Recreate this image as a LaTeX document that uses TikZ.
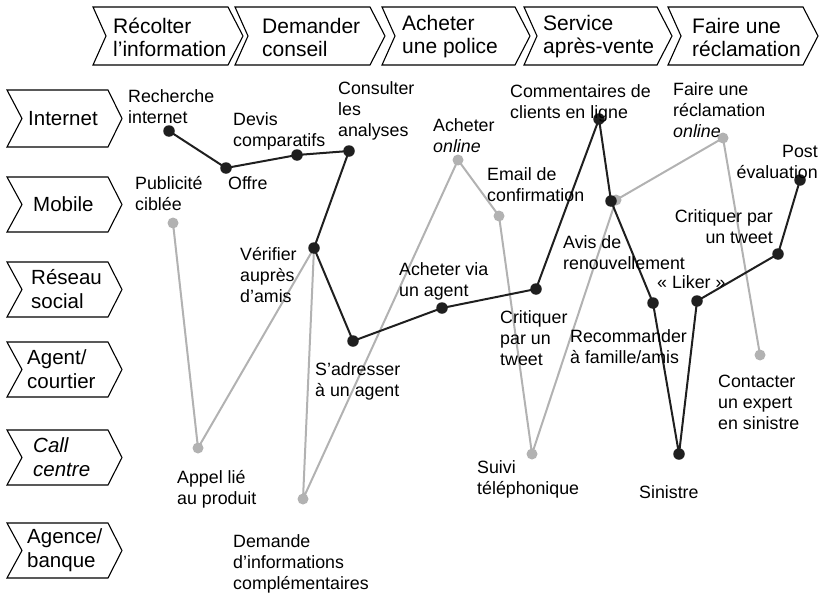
\documentclass[tikz,border=0pt]{standalone}
\usepackage{fontspec}
\setmainfont{Liberation Sans}
\pgfdeclarelayer{bg}
\pgfsetlayers{bg,main}
\newcommand\mlines[1]{\begin{tabular}[t]{@{}l@{}}#1\end{tabular}}
\newcommand\mrlines[1]{\begin{tabular}[t]{@{}r@{}}#1\end{tabular}}
\newcommand\chevr[6]{\draw[chev] (#1,#3) -- (#2-#6,#3) -- (#2,{(#3+#4)/2}) -- (#2-#6,#4) -- (#1,#4) -- (#1+#5,{(#3+#4)/2}) -- cycle;}
\begin{document}
\begin{tikzpicture}[x=1pt,y=-1pt,
 lab/.style={anchor=base west, inner sep=0pt, font=\fontsize{17.8}{21}\selectfont},
 labr/.style={anchor=base east, inner sep=0pt, font=\fontsize{17.8}{21}\selectfont},
 hdr/.style={anchor=west, inner sep=0pt, align=left, font=\fontsize{21}{23}\selectfont},
 rowl/.style={anchor=west, inner sep=0pt, align=left, font=\fontsize{20.5}{24}\selectfont},
 chev/.style={draw=black, line width=1.1pt, line join=miter},
 bdot/.style={circle, fill=black!88, inner sep=0pt, minimum size=11.5pt},
 gdot/.style={circle, fill=black!30, inner sep=0pt, minimum size=11pt},
 bline/.style={draw=black!88, line width=2pt, line join=round},
 gline/.style={draw=black!30, line width=2pt, line join=round}]
\useasboundingbox (0,0) rectangle (821,594);

% header chevrons
\chevr{93}{243}{7}{65}{13}{15}
\chevr{235}{385}{7}{65}{13}{15}
\chevr{382}{530}{7}{65}{13}{15}
\chevr{524}{672}{7}{65}{13}{15}
\chevr{668}{818}{7}{65}{13}{15}
\node[hdr] (h1) at (113,37) {Récolter\\l’information};
\node[hdr] (h2) at (262,37) {Demander\\conseil};
\node[hdr] (h3) at (402,37) {Acheter\\une police};
\node[hdr] (h4) at (543,37) {Service\\après-vente};
\node[hdr] (h5) at (692,37) {Faire une\\réclamation};

% row chevrons
\chevr{7}{122}{90}{147}{15}{14}
\chevr{7}{122}{177}{232}{15}{14}
\chevr{7}{122}{262}{317}{15}{14}
\chevr{7}{122}{342}{397}{15}{14}
\chevr{7}{122}{430}{485}{15}{14}
\chevr{7}{122}{523}{578}{15}{14}
\node[rowl] (r1) at (28,118.5) {Internet};
\node[rowl] (r2) at (33,204.5) {Mobile};
\node[rowl] (r3) at (31,289.5) {Réseau\\social};
\node[rowl] (r4) at (27,369.5) {Agent/\\courtier};
\node[rowl] (r5) at (33,457.5) {\itshape Call\\\itshape centre};
\node[rowl] (r6) at (27,550.5) {Agence/\\banque};

% gray dots
\node[gdot] (a) at (173,223) {};
\node[gdot] (b) at (198,448) {};
\node[gdot] (c) at (303,499) {};
\node[gdot] (d) at (458,160) {};
\node[gdot] (e) at (499,216) {};
\node[gdot] (f) at (532,454) {};
\node[gdot] (g) at (616,200) {};
\node[gdot] (h) at (723,138) {};
\node[gdot] (i) at (760,355) {};

% black dots
\node[bdot] (A) at (169,131) {};
\node[bdot] (B) at (226,168) {};
\node[bdot] (C) at (297,155) {};
\node[bdot] (D) at (349,151) {};
\node[bdot] (E) at (314,248) {};
\node[bdot] (F) at (353,341) {};
\node[bdot] (G) at (442,308) {};
\node[bdot] (H) at (536,289) {};
\node[bdot] (I) at (599,119) {};
\node[bdot] (J) at (611,201) {};
\node[bdot] (K) at (653,303) {};
\node[bdot] (L) at (679,454) {};
\node[bdot] (M) at (697,301) {};
\node[bdot] (N) at (778,254) {};
\node[bdot] (O) at (800,180) {};

\begin{pgfonlayer}{bg}
\draw[gline] (a.center) -- (b.center) -- (E.center) -- (c.center) -- (d.center) -- (e.center) -- (f.center) -- (g.center) -- (h.center) -- (i.center);
\draw[bline] (A.center) -- (B.center) -- (C.center) -- (D.center) -- (E.center) -- (F.center) -- (G.center) -- (H.center) -- (I.center) -- (J.center) -- (K.center) -- (L.center) -- (M.center) -- (N.center) -- (O.center);
\end{pgfonlayer}

% labels
\node[lab] (lA) at (128,102) {\mlines{Recherche\\internet}};
\node[lab] (lC) at (233,125) {\mlines{Devis\\comparatifs}};
\node[lab] (lD) at (338,94) {\mlines{Consulter\\les\\analyses}};
\node[lab] (lB) at (228,189) {Offre};
\node[lab] (la) at (135,189) {\mlines{Publicité\\ciblée}};
\node[lab] (lE) at (240,260) {\mlines{Vérifier\\auprès\\d’amis}};
\node[lab] (ld) at (433,131) {\mlines{Acheter\\\itshape online}};
\node[lab] (le) at (487,180) {\mlines{Email de\\confirmation}};
\node[lab] (lG) at (399,275) {\mlines{Acheter via\\un agent}};
\node[lab] (lF) at (315,375) {\mlines{S’adresser\\à un agent}};
\node[lab] (lH) at (500,323) {\mlines{Critiquer\\par un\\tweet}};
\node[lab] (lI) at (510,97) {\mlines{Commentaires de\\clients en ligne}};
\node[lab] (lJ) at (563,248) {\mlines{Avis de\\renouvellement}};
\node[lab] (lK) at (570,342) {\mlines{Recommander\\à famille/amis}};
\node[lab] (lM) at (657,288) {«~Liker~»};
\node[lab] (lh) at (673,95) {\mlines{Faire une\\réclamation\\\itshape online}};
\node[labr] (lO) at (818,157) {\mrlines{Post\\évaluation}};
\node[labr] (lN) at (773,222) {\mrlines{Critiquer par\\un tweet}};
\node[lab] (li) at (718,387) {\mlines{Contacter\\un expert\\en sinistre}};
\node[lab] (lf) at (477,473) {\mlines{Suivi\\téléphonique}};
\node[lab] (lL) at (639,498) {Sinistre};
\node[lab] (lb) at (177,483) {\mlines{Appel lié\\au produit}};
\node[lab] (lc) at (233,547) {\mlines{Demande\\d’informations\\complémentaires}};
\end{tikzpicture}
\end{document}
